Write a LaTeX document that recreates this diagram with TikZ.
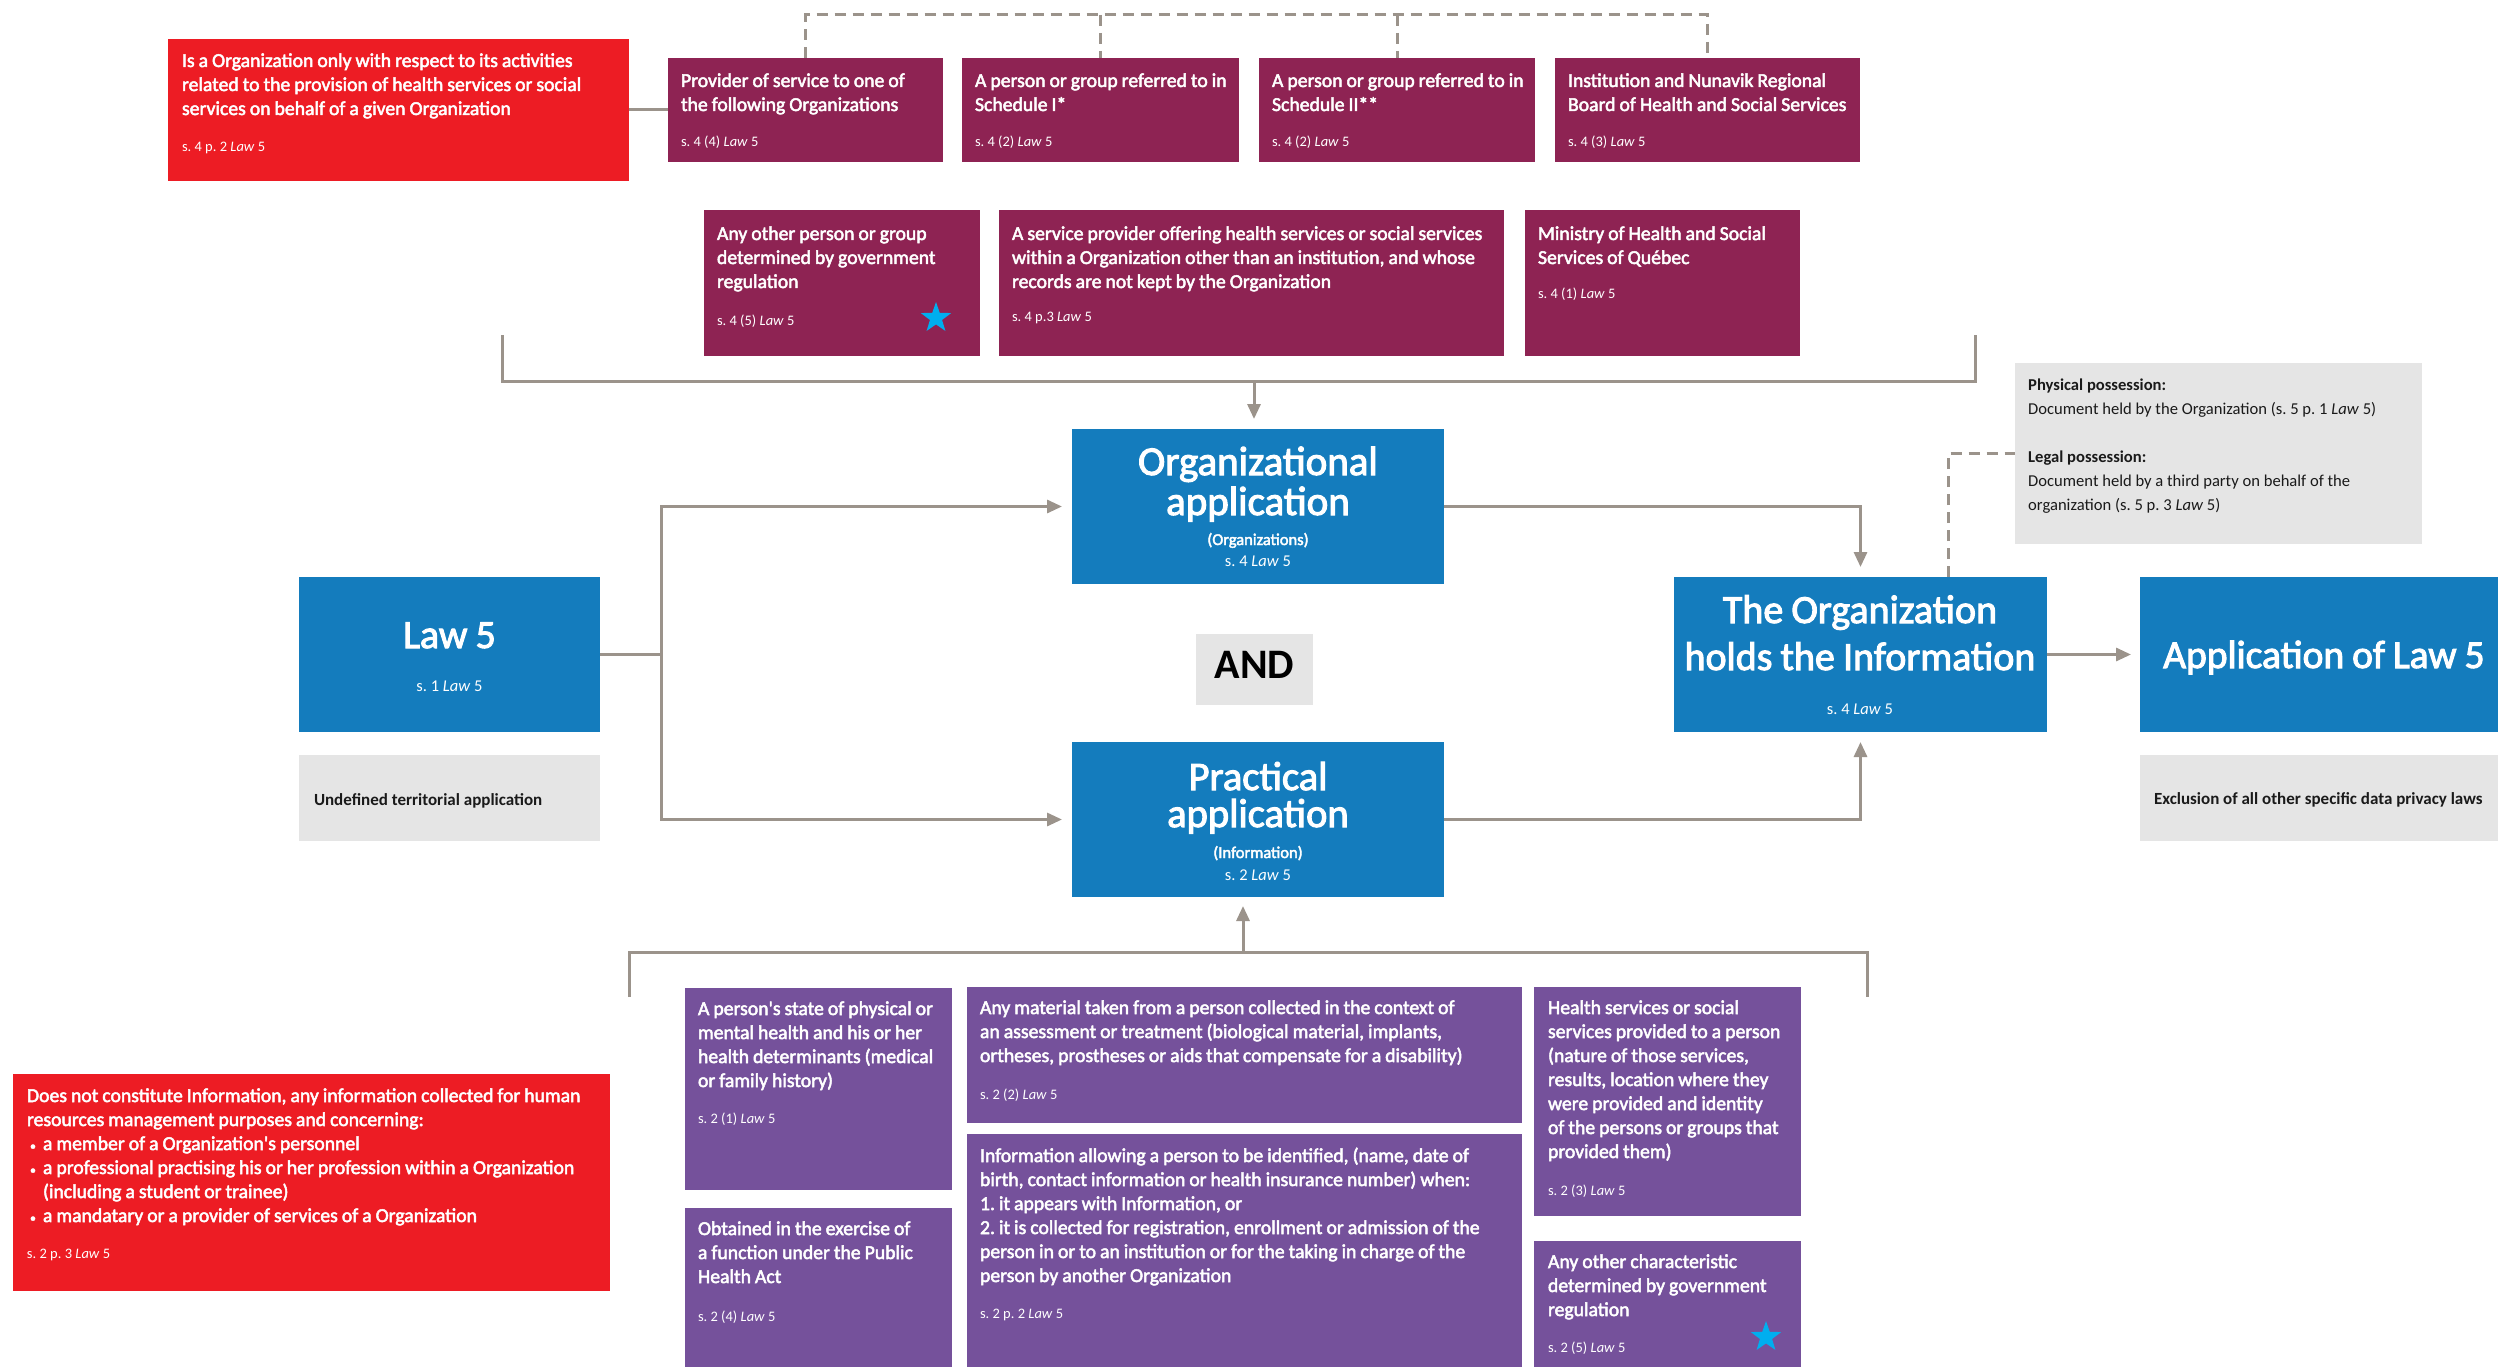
\documentclass[tikz,border=0pt]{standalone}
\usepackage{fontspec}
\setmainfont{Carlito}
\newfontfamily\medf{Carlito}[FakeBold=2.5,Ligatures=TeXOff]
\newfontfamily\bigf{Carlito}[FakeBold=2.5,WordSpace=0.9]
\frenchspacing
\usetikzlibrary{arrows.meta,fit,shapes.geometric}
\definecolor{redc}{HTML}{ED1C24}
\definecolor{maroon}{HTML}{8E2353}
\definecolor{purp}{HTML}{75519B}
\definecolor{bluec}{HTML}{147CBD}
\definecolor{grayb}{HTML}{E5E5E5}
\definecolor{linec}{HTML}{9B938B}
\definecolor{starc}{HTML}{00AEEF}
\definecolor{darktxt}{HTML}{1A1A1A}
\newcommand\bul{\makebox[16pt][l]{\hspace{3pt}{\fontsize{12}{12}\selectfont •}}}
\begin{document}
\begin{tikzpicture}[x=1pt,y=-1pt,
  boxs/.style={inner sep=0pt,outer sep=0pt,draw=none},
  body/.style={anchor=base west,inner sep=0pt,outer sep=0pt,align=flush left,text=white,font=\medf\fontsize{19.7}{24}\selectfont},
  refs/.style={anchor=base west,inner sep=0pt,outer sep=0pt,text=white,font=\fontsize{14.5}{17}\selectfont},
  bigt/.style={anchor=base,inner sep=0pt,outer sep=0pt,align=flush center,text=white,font=\bigf\fontsize{41}{40}\selectfont},
  subt/.style={anchor=base,inner sep=0pt,outer sep=0pt,text=white,font=\fontsize{16.5}{20}\selectfont},
  graytxt/.style={anchor=base west,inner sep=0pt,outer sep=0pt,text=darktxt,font=\fontsize{17}{22}\selectfont\bfseries},
  conn/.style={draw=linec,line width=3pt},
  arr/.style={conn,-{Triangle[length=15pt,width=13pt]},shorten >=9pt},
  dashln/.style={draw=linec,line width=3pt,dash pattern=on 11pt off 7pt},
  starn/.style={star,star points=5,star point ratio=2.5,fill=starc,minimum size=32pt,inner sep=0pt}]
\path[fill=white,use as bounding box] (0,0) rectangle (2498,1367);

% ---------- boxes ----------
\node[boxs,fill=redc,fit={(168,39)(629,181)}] (r1) {};
\node[boxs,fill=maroon,fit={(668,58)(943,162)}] (p1) {};
\node[boxs,fill=maroon,fit={(962,58)(1239,162)}] (p2) {};
\node[boxs,fill=maroon,fit={(1259,58)(1535,162)}] (p3) {};
\node[boxs,fill=maroon,fit={(1555,58)(1860,162)}] (p4) {};
\node[boxs,fill=maroon,fit={(704,210)(980,356)}] (p5) {};
\node[boxs,fill=maroon,fit={(999,210)(1504,356)}] (p6) {};
\node[boxs,fill=maroon,fit={(1525,210)(1800,356)}] (p7) {};
\node[boxs,fill=grayb,fit={(2015,363)(2422,544)}] (poss) {};
\node[boxs,fill=bluec,fit={(1072,429)(1444,584)}] (org) {};
\node[boxs,fill=bluec,fit={(299,577)(600,732)}] (law) {};
\node[boxs,fill=grayb,fit={(299,755)(600,841)}] (und) {};
\node[boxs,fill=grayb,fit={(1196,634)(1313,705)}] (andb) {};
\node[boxs,fill=bluec,fit={(1072,742)(1444,897)}] (prac) {};
\node[boxs,fill=bluec,fit={(1674,577)(2047,732)}] (holds) {};
\node[boxs,fill=bluec,fit={(2140,577)(2498,732)}] (app) {};
\node[boxs,fill=grayb,fit={(2140,755)(2498,841)}] (excl) {};
\node[boxs,fill=purp,fit={(685,988)(952,1190)}] (b1) {};
\node[boxs,fill=purp,fit={(685,1208)(952,1367)}] (b2) {};
\node[boxs,fill=purp,fit={(967,987)(1522,1123)}] (b3) {};
\node[boxs,fill=purp,fit={(967,1134)(1522,1367)}] (b4) {};
\node[boxs,fill=purp,fit={(1534,987)(1801,1216)}] (b5) {};
\node[boxs,fill=purp,fit={(1534,1241)(1801,1367)}] (b6) {};
\node[boxs,fill=redc,fit={(13,1074)(610,1291)}] (r2) {};

% ---------- texts ----------
\node[body,text width=445pt] (r1t) at (182,67) {Is a Organization only with respect to its activities\\related to the provision of health services or social\\services on behalf of a given Organization};
\node[refs] (r1r) at (182,152) {s. 4 p. 2 \textit{Law} 5};

\node[body,text width=262pt] (p1t) at (681,87) {Provider of service to one of\\the following Organizations};
\node[refs] (p1r) at (681,147) {s. 4 (4) \textit{Law} 5};
\node[body,text width=264pt] (p2t) at (975,87) {A person or group referred to in\\Schedule I*};
\node[refs] (p2r) at (975,147) {s. 4 (2) \textit{Law} 5};
\node[body,text width=263pt] (p3t) at (1272,87) {A person or group referred to in\\Schedule II**};
\node[refs] (p3r) at (1272,147) {s. 4 (2) \textit{Law} 5};
\node[body,text width=292pt] (p4t) at (1568,87) {Institution and Nunavik Regional\\Board of Health and Social Services};
\node[refs] (p4r) at (1568,147) {s. 4 (3) \textit{Law} 5};

\node[body,text width=263pt] (p5t) at (717,240) {Any other person or group\\determined by government\\regulation};
\node[refs] (p5r) at (717,325) {s. 4 (5) \textit{Law} 5};
\node[starn] (s1) at (936,318) {};
\node[body,text width=492pt] (p6t) at (1012,240) {A service provider offering health services or social services\\within a Organization other than an institution, and whose\\records are not kept by the Organization};
\node[refs] (p6r) at (1012,321) {s. 4 p.3 \textit{Law} 5};
\node[body,text width=262pt] (p7t) at (1538,240) {Ministry of Health and Social\\Services of Québec};
\node[refs] (p7r) at (1538,298) {s. 4 (1) \textit{Law} 5};

\node[anchor=base west,inner sep=0pt,align=flush left,text=darktxt,text width=394pt,font=\fontsize{16.6}{24}\selectfont] (posst) at (2028,390)
  {\textbf{Physical possession:}\\Document held by the Organization (s. 5 p. 1 \textit{Law} 5)\\\mbox{}\\\textbf{Legal possession:}\\Document held by a third party on behalf of the\\organization (s. 5 p. 3 \textit{Law} 5)};

\node[bigt,text width=370pt] (orgt) at (1258,475) {Organizational\\application};
\node[subt,font=\medf\fontsize{16.5}{20}\selectfont] (orgs) at (1258,545) {(Organizations)};
\node[subt] (orgr) at (1258,566) {s. 4 \textit{Law} 5};

\node[bigt,text width=370pt,font=\bigf\fontsize{40.5}{37}\selectfont] (pract) at (1258,790) {Practical\\application};
\node[subt,font=\medf\fontsize{16.5}{20}\selectfont] (pracs) at (1258,858) {(Information)};
\node[subt] (pracr) at (1258,880) {s. 2 \textit{Law} 5};

\node[bigt,font=\bigf\fontsize{40}{47}\selectfont] (lawt) at (449.5,648) {Law 5};
\node[subt] (lawr) at (449.5,691) {s. 1 \textit{Law} 5};

\node[bigt,text width=372pt,font=\bigf\fontsize{40}{47}\selectfont] (holdst) at (1860,623) {The Organization\\holds the Information};
\node[subt] (holdsr) at (1860,714) {s. 4 \textit{Law} 5};

\node[anchor=base west,inner sep=0pt,text=white,font=\bigf\fontsize{39.5}{40}\selectfont] (appt) at (2163,668) {Application of Law 5};

\node[anchor=base,inner sep=0pt,text=black,font=\fontsize{42}{44}\selectfont\bfseries] (andt) at (1254.5,678) {AND};

\node[graytxt] (undt) at (314,805) {Undefined territorial application};
\node[graytxt] (exclt) at (2154,804) {Exclusion of all other specific data privacy laws};

\node[body,text width=254pt] (b1t) at (698,1015) {A person's state of physical or\\mental health and his or her\\health determinants (medical\\or family history)};
\node[refs] (b1r) at (698,1123) {s. 2 (1) \textit{Law} 5};
\node[body,text width=254pt] (b2t) at (698,1235) {Obtained in the exercise of\\a function under the Public\\Health Act};
\node[refs] (b2r) at (698,1321) {s. 2 (4) \textit{Law} 5};
\node[body,text width=542pt] (b3t) at (980,1014) {Any material taken from a person collected in the context of\\an assessment or treatment (biological material, implants,\\ortheses, prostheses or aids that compensate for a disability)};
\node[refs] (b3r) at (980,1099) {s. 2 (2) \textit{Law} 5};
\node[body,text width=542pt] (b4t) at (980,1162) {Information allowing a person to be identified, (name, date of\\birth, contact information or health insurance number) when:\\1. it appears with Information, or\\2. it is collected for registration, enrollment or admission of the\\person in or to an institution or for the taking in charge of the\\person by another Organization};
\node[refs] (b4r) at (980,1318) {s. 2 p. 2 \textit{Law} 5};
\node[body,text width=253pt] (b5t) at (1548,1014) {Health services or social\\services provided to a person\\(nature of those services,\\results, location where they\\were provided and identity\\of the persons or groups that\\provided them)};
\node[refs] (b5r) at (1548,1195) {s. 2 (3) \textit{Law} 5};
\node[body,text width=253pt] (b6t) at (1548,1268) {Any other characteristic\\determined by government\\regulation};
\node[refs] (b6r) at (1548,1352) {s. 2 (5) \textit{Law} 5};
\node[starn] (s2) at (1766,1337) {};

\node[body,text width=583pt] (r2t) at (27,1102) {Does not constitute Information, any information collected for human\\resources management purposes and concerning:\\\bul a member of a Organization's personnel\\\bul a professional practising his or her profession within a Organization\\\hspace*{16pt}(including a student or trainee)\\\bul a mandatary or a provider of services of a Organization};
\node[refs] (r2r) at (27,1258) {s. 2 p. 3 \textit{Law} 5};

% ---------- connectors ----------
\coordinate (dtop) at (0,15);
\draw[dashln] (p1.north) -- (p1.north |- dtop) -- (p4.north |- dtop) -- (p4.north);
\draw[dashln] (p2.north |- dtop) -- (p2.north);
\draw[dashln] (p3.north |- dtop) -- (p3.north);
\draw[conn] (r1.east) -- (p1.west);

\coordinate (ubl) at (502,335);
\coordinate (ubr) at (1975,335);
\coordinate (ubj) at (1254,381);
\draw[conn] (ubl) |- (ubj) -| (ubr);
\draw[arr,shorten >=10pt] (ubj) -- (ubj |- org.north);

\coordinate (lj) at (661,654.5);
\draw[conn] (law.east) -- (lj);
\draw[arr,shorten >=10pt] (lj) |- (org.west);
\draw[arr,shorten >=10pt] (lj) |- (prac.west);

\draw[arr,shorten >=10pt] (org.east) -| (holds.north);
\draw[arr,shorten >=10pt] (prac.east) -| (holds.south);
\draw[arr] (holds.east) -- (app.west);

\coordinate (dh) at (1948,577);
\draw[dashln] (dh) |- (poss.west);

\coordinate (lbl) at (629,997);
\coordinate (lbr) at (1867,997);
\coordinate (lbj) at (1243,952);
\draw[conn] (lbl) |- (lbj) -| (lbr);
\draw[arr] (lbj) -- (lbj |- prac.south);
\end{tikzpicture}
\end{document}
